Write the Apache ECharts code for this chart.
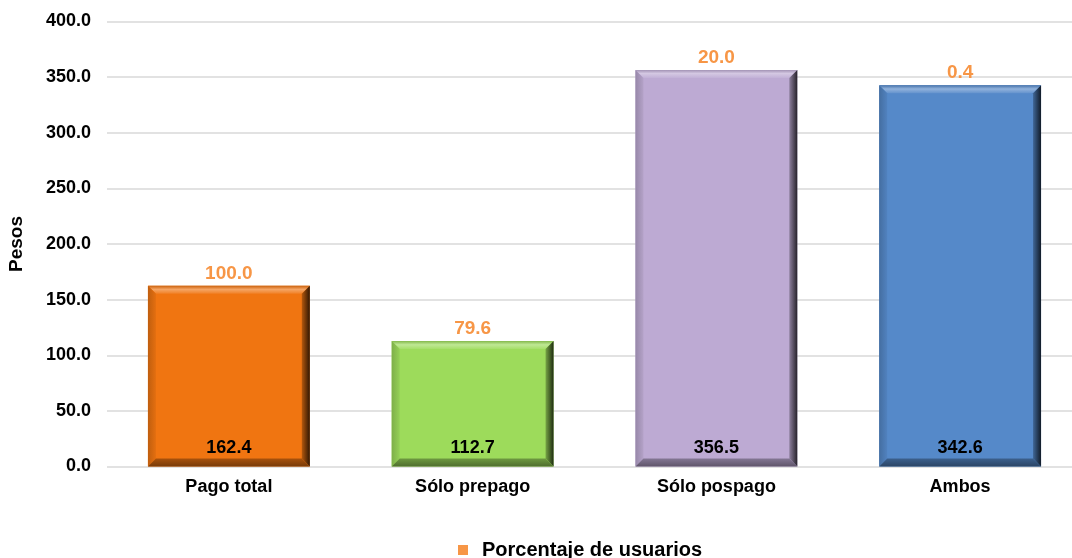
<!DOCTYPE html>
<html>
<head>
<meta charset="utf-8">
<script src="https://cdn.jsdelivr.net/npm/echarts@6/dist/echarts.min.js"></script>
<style>html,body{margin:0;padding:0;background:#fff}#c{width:1072px;height:558px}</style>
</head>
<body>
<div id="c"></div>
<script>
const categories = ['Pago total', 'Sólo prepago', 'Sólo pospago', 'Ambos'];
const pesos = [162.4, 112.7, 356.5, 342.6];
const porcentaje = [100.0, 79.6, 20.0, 0.4];
const barColors = ['#F07511', '#9DDB5B', '#BDAAD3', '#5589C9'];
const legendName = 'Porcentaje de usuarios';

const FONT = '"Liberation Sans", Arial, sans-serif';

function mix(hex, target, t) {
  const n = parseInt(hex.slice(1), 16);
  const r = (n >> 16) & 255, g = (n >> 8) & 255, b = n & 255;
  const m = v => Math.round(v + (target - v) * t);
  return 'rgb(' + m(r) + ',' + m(g) + ',' + m(b) + ')';
}

const chart = echarts.init(document.getElementById('c'), null, {renderer: 'canvas'});

const bevelData = pesos.map((v, i) => [i, v]);
const labelData = pesos.map((v, i) => ({value: [i, v], pct: porcentaje[i]}));

chart.setOption({
  animation: false,
  backgroundColor: '#ffffff',
  grid: {left: 107, top: 21.5, width: 975, height: 445, containLabel: false, outerBoundsMode: 'none'},
  legend: {
    data: [{name: legendName, icon: 'rect', itemStyle: {color: '#F79646', opacity: 1}}],
    left: 453, top: 535,
    itemWidth: 10, itemHeight: 10,
    textStyle: {fontFamily: FONT, fontSize: 20, fontWeight: 'bold', color: '#000', padding: [0, 0, 0, 9]}
  },
  xAxis: {
    type: 'category',
    data: categories,
    axisLine: {show: false},
    axisTick: {show: false},
    axisLabel: {fontFamily: FONT, fontSize: 18, fontWeight: 'bold', color: '#000', margin: 12}
  },
  yAxis: {
    type: 'value',
    min: 0, max: 400, interval: 50,
    name: 'Pesos',
    nameLocation: 'middle',
    nameRotate: 90,
    nameGap: 81,
    nameTextStyle: {fontFamily: FONT, fontSize: 19, fontWeight: 'bold', color: '#000'},
    axisLine: {show: false},
    axisTick: {show: false},
    axisLabel: {fontFamily: FONT, fontSize: 18, fontWeight: 'bold', color: '#000', margin: 16,
      formatter: v => v.toFixed(1)},
    splitLine: {lineStyle: {color: '#D9D9D9', width: 1.5}}
  },
  series: [
    {
      type: 'bar',
      name: 'Pesos',
      barWidth: '66.4%',
      z: 2,
      data: pesos.map((v, i) => ({value: v, itemStyle: {color: barColors[i]}})),
      label: {
        show: true, position: 'insideBottom', distance: 9,
        fontFamily: FONT, fontSize: 18, fontWeight: 'bold', color: '#000',
        formatter: p => p.value.toFixed(1)
      }
    },
    {
      type: 'custom',
      name: 'bevel',
      z: 3,
      silent: true,
      data: bevelData,
      renderItem: function (params, api) {
        const i = api.value(0);
        const topPt = api.coord([i, api.value(1)]);
        const basePt = api.coord([i, 0]);
        const w = api.size([1, 0])[0] * 0.664;
        const l = topPt[0] - w / 2, r = topPt[0] + w / 2;
        const t = topPt[1], bt = basePt[1];
        const b = 8;
        const c = barColors[i];
        return {
          type: 'group',
          children: [
            {type: 'polygon', shape: {points: [[l, t], [r, t], [r - b, t + b], [l + b, t + b]]},
              style: {fill: new echarts.graphic.LinearGradient(0, 0, 0, 1, [
                {offset: 0, color: mix(c, 0, 0.15)}, {offset: 0.45, color: mix(c, 255, 0.35)}, {offset: 1, color: mix(c, 255, 0.08)}])}},
            {type: 'polygon', shape: {points: [[l, t], [l + b, t + b], [l + b, bt - b], [l, bt]]},
              style: {fill: new echarts.graphic.LinearGradient(0, 0, 1, 0, [
                {offset: 0, color: mix(c, 0, 0.2)}, {offset: 1, color: mix(c, 0, 0.05)}])}},
            {type: 'polygon', shape: {points: [[r, t], [r, bt], [r - b, bt - b], [r - b, t + b]]},
              style: {fill: new echarts.graphic.LinearGradient(0, 0, 1, 0, [
                {offset: 0, color: mix(c, 0, 0.25)}, {offset: 1, color: mix(c, 0, 0.8)}])}},
            {type: 'polygon', shape: {points: [[l, bt], [r, bt], [r - b, bt - b], [l + b, bt - b]]},
              style: {fill: new echarts.graphic.LinearGradient(0, 0, 0, 1, [
                {offset: 0, color: mix(c, 0, 0.3)}, {offset: 1, color: mix(c, 0, 0.5)}])}}
          ]
        };
      }
    },
    {
      type: 'scatter',
      name: legendName,
      z: 4,
      symbolSize: 0,
      itemStyle: {color: '#F79646', opacity: 1},
      data: labelData,
      label: {
        show: true, position: 'top', distance: 3,
        fontFamily: FONT, fontSize: 19, fontWeight: 'bold', color: '#F79646', opacity: 1,
        formatter: p => p.data.pct.toFixed(1)
      }
    }
  ]
});
</script>
</body>
</html>
